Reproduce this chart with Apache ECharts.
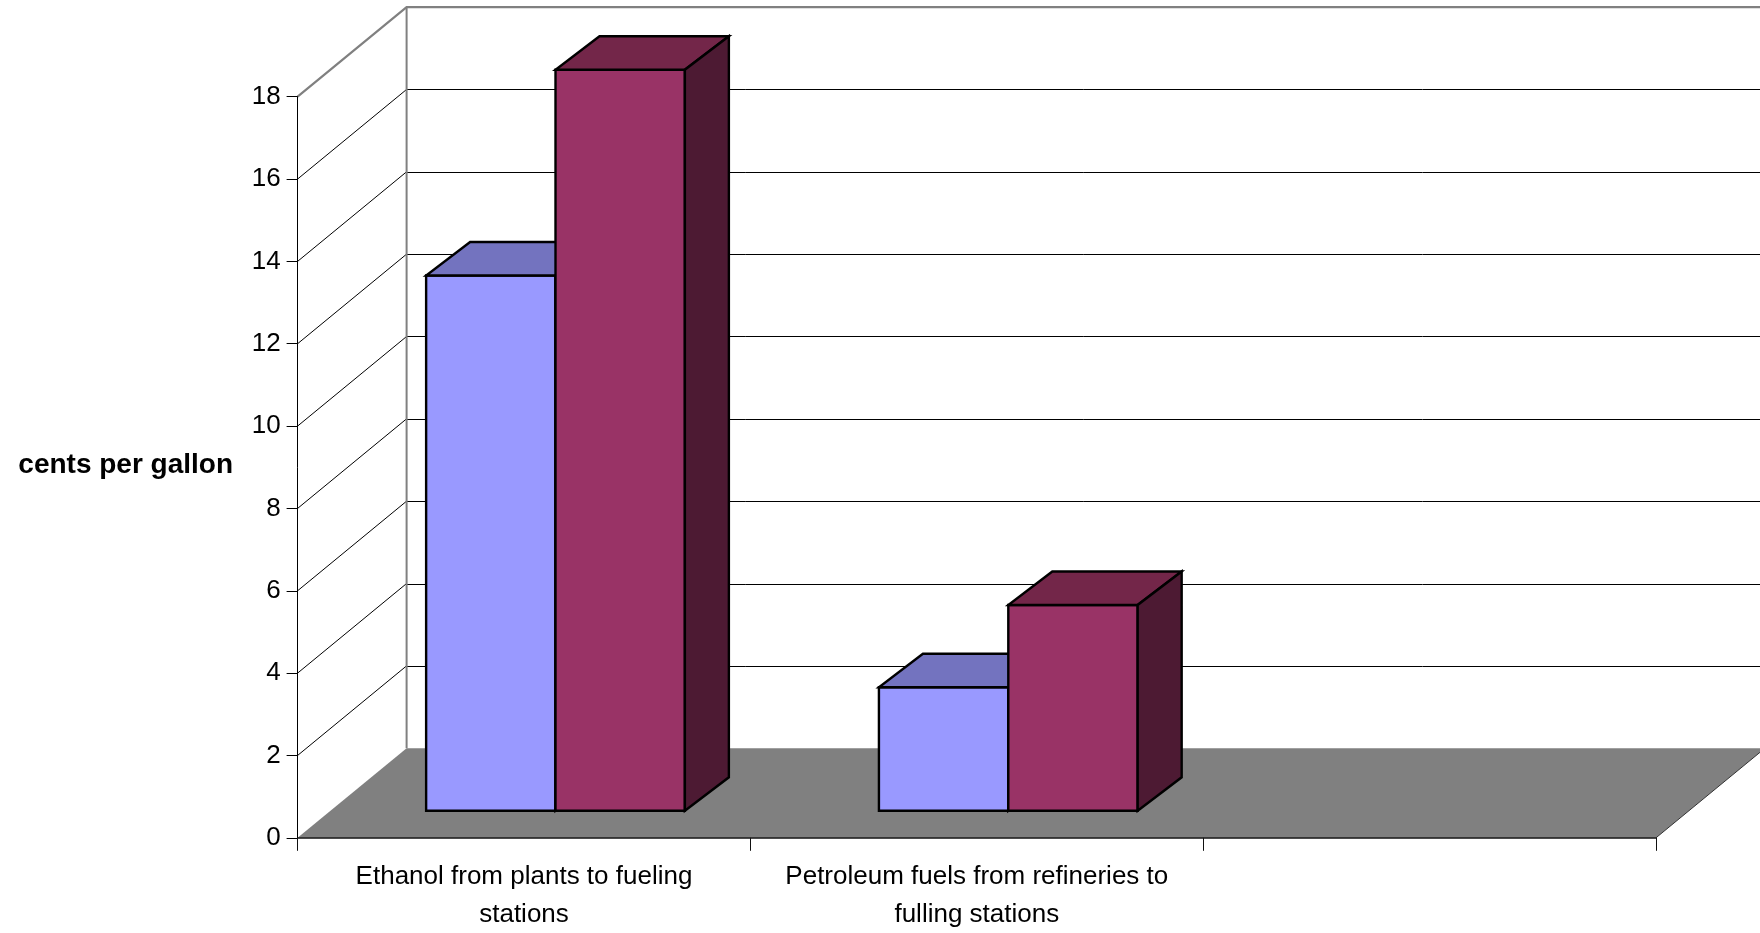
<!DOCTYPE html>
<html>
<head>
<meta charset="utf-8">
<script src="https://cdn.jsdelivr.net/npm/echarts@6/dist/echarts.min.js"></script>
<style>
  html, body { margin: 0; padding: 0; background: #ffffff; }
  #chart { width: 1760px; height: 933px; }
</style>
</head>
<body>
<div id="chart"></div>
<script>
// Category labels along the floor (third slot is an empty category)
const categories = [
  'Ethanol from plants to fueling\nstations',
  'Petroleum fuels from refineries to\nfulling stations',
  ''
];

// Series values, cents per gallon
const seriesNames = ['Series 1', 'Series 2'];
const series1 = [13, 3];
const series2 = [18, 5];

// Value axis ticks
const yTicks = [0, 2, 4, 6, 8, 10, 12, 14, 16, 18];

const yTitle = 'cents per gallon';

// ---- 3D projection (pixels) ----
const DEPTH = [109, 89.6];       // full floor depth: right, up
const BAR_FRONT = [31.5, 27];    // where the bar fronts sit inside the depth
const BAR_DEPTH = [44, 33.5];    // bar thickness along the depth
const GAP = 1.5;                 // gap between groups, in bar widths

const FONT = "'Liberation Sans', Arial, sans-serif";

const palettes = [
  { front: '#9999FF', top: '#7373BF', side: '#4D4D80' },
  { front: '#993366', top: '#732649', side: '#4D1A33' }
];

function crisp(v) { return Math.round(v) + 0.5; }

// Walls, gridlines and floor
function renderFrame(params, api) {
  const cs = params.coordSys;
  const L = cs.x, R = cs.x + cs.width;
  const [dx, dy] = DEPTH;
  const yMin = api.coord([0, yTicks[0]])[1];
  const yMax = api.coord([0, yTicks[yTicks.length - 1]])[1];
  const children = [];
  yTicks.slice(1, -1).forEach(function (v) {
    const y = api.coord([0, v])[1];
    const yb = crisp(y - dy);
    children.push({
      type: 'line',
      shape: { x1: L + dx, y1: yb, x2: R + dx + 10, y2: yb },
      style: { stroke: '#000000', lineWidth: 1 }
    });
    children.push({
      type: 'line',
      shape: { x1: L, y1: y, x2: L + dx, y2: y - dy },
      style: { stroke: '#000000', lineWidth: 1 }
    });
  });
  // back wall left edge and top edges
  children.push({
    type: 'line',
    shape: { x1: L + dx, y1: yMax - dy, x2: L + dx, y2: yMin - dy },
    style: { stroke: '#808080', lineWidth: 2 }
  });
  children.push({
    type: 'polyline',
    shape: { points: [[L, yMax], [L + dx, yMax - dy], [R + dx + 20, yMax - dy]] },
    style: { stroke: '#808080', lineWidth: 2.2, fill: null }
  });
  // floor
  children.push({
    type: 'polygon',
    shape: { points: [[L, yMin], [L + dx, yMin - dy], [R + dx, yMin - dy], [R, yMin]] },
    style: { fill: '#808080', stroke: null }
  });
  children.push({
    type: 'line',
    shape: { x1: R, y1: yMin, x2: R + dx, y2: yMin - dy },
    style: { stroke: '#333333', lineWidth: 1 }
  });
  return { type: 'group', children: children };
}

// One 3D column: front, top and right side faces
function makeBarRenderer(slot, colors) {
  return function (params, api) {
    const idx = api.value(0);
    const v = api.value(1);
    const base = api.coord([idx, 0]);
    const peak = api.coord([idx, v]);
    const band = api.size([1, 0])[0];
    const w = band / (2 + GAP);
    const x0 = base[0] - w + slot * w + BAR_FRONT[0];
    const x1 = x0 + w;
    const yb = base[1] - BAR_FRONT[1];
    const yt = peak[1] - BAR_FRONT[1];
    const dx = BAR_DEPTH[0], dy = BAR_DEPTH[1];
    const edge = { stroke: '#000000', lineWidth: 2.4, lineJoin: 'miter' };
    return {
      type: 'group',
      children: [
        { type: 'polygon', shape: { points: [[x0, yb], [x1, yb], [x1, yt], [x0, yt]] },
          style: Object.assign({ fill: colors.front }, edge) },
        { type: 'polygon', shape: { points: [[x0, yt], [x1, yt], [x1 + dx, yt - dy], [x0 + dx, yt - dy]] },
          style: Object.assign({ fill: colors.top }, edge) },
        { type: 'polygon', shape: { points: [[x1, yb], [x1 + dx, yb - dy], [x1 + dx, yt - dy], [x1, yt]] },
          style: Object.assign({ fill: colors.side }, edge) }
      ]
    };
  };
}

const chart = echarts.init(document.getElementById('chart'), null, { renderer: 'canvas' });

const valueSets = [series1, series2];

chart.setOption({
  animation: false,
  backgroundColor: '#ffffff',
  grid: {
    left: 297.6,
    right: 104,
    top: 96.7,
    bottom: 95.2,
    containLabel: false,
    outerBoundsMode: 'none'
  },
  xAxis: {
    type: 'category',
    data: categories,
    boundaryGap: true,
    z: 5,
    axisLine: { show: true, lineStyle: { color: '#111111', width: 1.5 } },
    axisTick: { show: true, interval: 0, length: 13, lineStyle: { color: '#111111', width: 1 } },
    axisLabel: {
      interval: 0,
      margin: 20,
      color: '#000000',
      fontFamily: FONT,
      fontSize: 26,
      lineHeight: 38,
      align: 'center'
    },
    splitLine: { show: false }
  },
  yAxis: {
    type: 'value',
    min: yTicks[0],
    max: yTicks[yTicks.length - 1],
    interval: yTicks[1] - yTicks[0],
    z: 5,
    axisLine: { show: true, lineStyle: { color: '#000000', width: 1 } },
    axisTick: { show: true, length: 11, lineStyle: { color: '#000000', width: 1 } },
    axisLabel: {
      margin: 17,
      color: '#000000',
      fontFamily: FONT,
      fontSize: 26
    },
    splitLine: { show: false }
  },
  graphic: [{
    type: 'text',
    x: 125.7,
    y: 465.5,
    style: {
      text: yTitle,
      fill: '#000000',
      font: 'bold 28px ' + FONT,
      align: 'center',
      verticalAlign: 'middle'
    }
  }],
  series: [
    {
      name: 'frame',
      type: 'custom',
      z: 1,
      clip: false,
      silent: true,
      data: [[0, 0]],
      encode: { x: 0, y: 1 },
      renderItem: renderFrame
    }
  ].concat(valueSets.map(function (vals, s) {
    return {
      name: seriesNames[s],
      type: 'custom',
      z: 3,
      clip: false,
      data: vals.map(function (v, i) { return [i, v]; }),
      encode: { x: 0, y: 1 },
      renderItem: makeBarRenderer(s, palettes[s])
    };
  }))
});
</script>
</body>
</html>
